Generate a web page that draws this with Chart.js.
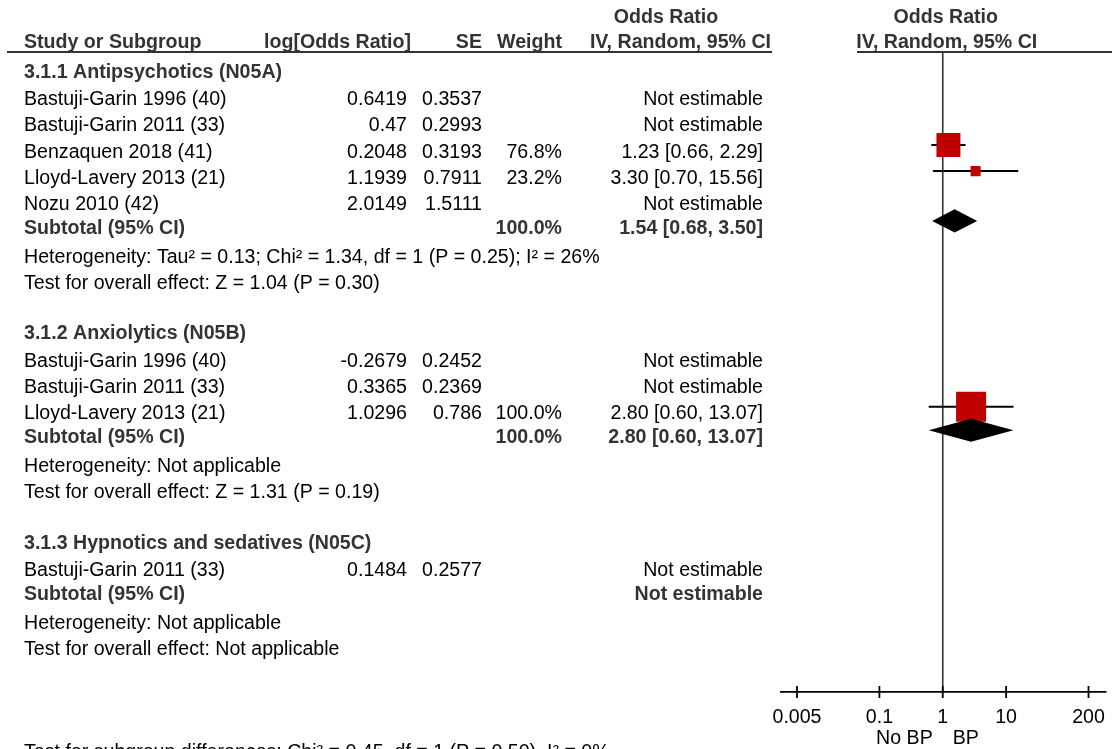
<!DOCTYPE html>
<html>
<head>
<meta charset="utf-8">
<script src="https://cdn.jsdelivr.net/npm/chart.js@4.4.1/dist/chart.umd.min.js"></script>
<style>
  html, body { margin: 0; padding: 0; background: #fff; overflow: hidden; }
  canvas { display: block; }
</style>
</head>
<body>
<canvas id="forest" width="1112" height="749"></canvas>
<script>
// ---- Subgroups and studies ----
const groupTitles = [
  '3.1.1 Antipsychotics (N05A)',
  '3.1.2 Anxiolytics (N05B)',
  '3.1.3 Hypnotics and sedatives (N05C)'
];
const studyNames = [
  ['Bastuji-Garin 1996 (40)', 'Bastuji-Garin 2011 (33)', 'Benzaquen 2018 (41)', 'Lloyd-Lavery 2013 (21)', 'Nozu 2010 (42)'],
  ['Bastuji-Garin 1996 (40)', 'Bastuji-Garin 2011 (33)', 'Lloyd-Lavery 2013 (21)'],
  ['Bastuji-Garin 2011 (33)']
];
const logOddsRatio = [
  [0.6419, 0.47, 0.2048, 1.1939, 2.0149],
  [-0.2679, 0.3365, 1.0296],
  [0.1484]
];
const standardError = [
  [0.3537, 0.2993, 0.3193, 0.7911, 1.5111],
  [0.2452, 0.2369, 0.786],
  [0.2577]
];
const studyWeight = [
  [null, null, 76.8, 23.2, null],
  [null, null, 100.0],
  [null]
];
const oddsRatio = [
  [null, null, 1.23, 3.30, null],
  [null, null, 2.80],
  [null]
];
const ciLower = [
  [null, null, 0.66, 0.70, null],
  [null, null, 0.60],
  [null]
];
const ciUpper = [
  [null, null, 2.29, 15.56, null],
  [null, null, 13.07],
  [null]
];

// ---- Subgroup totals ----
const subtotalWeight = [100.0, 100.0, null];
const subtotalOR = [1.54, 2.80, null];
const subtotalLower = [0.68, 0.60, null];
const subtotalUpper = [3.50, 13.07, null];
const heterogeneityText = [
  'Tau\u00B2 = 0.13; Chi\u00B2 = 1.34, df = 1 (P = 0.25); I\u00B2 = 26%',
  'Not applicable',
  'Not applicable'
];
const overallEffectText = ['Z = 1.04 (P = 0.30)', 'Z = 1.31 (P = 0.19)', 'Not applicable'];
const subgroupDifferenceText = 'Test for subgroup differences: Chi\u00B2 = 0.45, df = 1 (P = 0.50), I\u00B2 = 0%';

// ---- Axis ----
const axisTicks = [0.005, 0.1, 1, 10, 200];
const axisTickLabels = ['0.005', '0.1', '1', '10', '200'];
const favourLabels = ['No BP', 'BP'];

// ---- Styling ----
const FONT_FAMILY = '"Liberation Sans", Arial, Helvetica, sans-serif';
const FONT_SIZE = 19.6;
const TEXT_DROP = 12.7;          // text baseline below a row's centre line
const BOX_RED = '#c00000';
const INK = '#000000';
const BOLD_INK = '#333333';
const DIAMOND_HALF_H = 0.44;     // in row units

function fmt2(v) { return v.toFixed(2); }
function ciText(or, lo, hi) { return fmt2(or) + ' [' + fmt2(lo) + ', ' + fmt2(hi) + ']'; }
function boxSide(w) { return 4 + 0.26 * w; }

// ---- Row layout (in row units down the table) ----
const rows = [];
(function buildRows() {
  let u = 0;
  groupTitles.forEach((title, gi) => {
    rows.push({ u: u, kind: 'group', gi: gi });
    let su = u + 1.05;
    studyNames[gi].forEach((name, si) => {
      rows.push({ u: su, kind: 'study', gi: gi, si: si });
      su += 1;
    });
    const subU = su - 1 + 0.9;
    rows.push({ u: subU, kind: 'subtotal', gi: gi });
    rows.push({ u: subU + 1.12, kind: 'het', gi: gi });
    rows.push({ u: subU + 2.12, kind: 'test', gi: gi });
    u = subU + 2.12 + 1.92;
  });
})();
const lastRowU = rows[rows.length - 1].u;
const AXIS_U = 23.93;
const FOOT_U = lastRowU + 3.9;
const HEADER_U = -1.134;
const TOPHEADER_U = -2.1;
const RULE_U = -0.496;

// ---- Datasets: CI whiskers and weighted boxes ----
const whiskerSets = [];
const boxPoints = [];
const boxRadii = [];
rows.forEach(r => {
  if (r.kind !== 'study') return;
  const or = oddsRatio[r.gi][r.si];
  if (or === null) return;
  whiskerSets.push({
    type: 'scatter',
    showLine: true,
    data: [{ x: ciLower[r.gi][r.si], y: r.u }, { x: ciUpper[r.gi][r.si], y: r.u }],
    borderColor: INK,
    borderWidth: 2,
    pointRadius: 0,
    order: 2
  });
  boxPoints.push({ x: or, y: r.u });
  boxRadii.push(boxSide(studyWeight[r.gi][r.si]) / Math.SQRT2);
});

const boxSet = {
  type: 'scatter',
  data: boxPoints,
  pointStyle: 'rect',
  pointRadius: boxRadii,
  pointBackgroundColor: BOX_RED,
  pointBorderColor: BOX_RED,
  pointBorderWidth: 0,
  order: 1
};

// ---- Drawing helpers ----
function text(ctx, s, x, y, align, bold) {
  ctx.font = (bold ? 'bold ' : '') + FONT_SIZE + 'px ' + FONT_FAMILY;
  ctx.fillStyle = bold ? BOLD_INK : INK;
  ctx.textAlign = align;
  ctx.textBaseline = 'alphabetic';
  ctx.fillText(s, x, y);
}

const forestPlugin = {
  id: 'forest',
  beforeDraw(chart) {
    const ctx = chart.ctx;
    ctx.save();
    ctx.fillStyle = '#ffffff';
    ctx.fillRect(0, 0, chart.width, chart.height);
    ctx.restore();
  },
  beforeDatasetsDraw(chart) {
    const ctx = chart.ctx, xs = chart.scales.x, ys = chart.scales.y;
    const x1 = xs.getPixelForValue(1);
    ctx.save();
    ctx.strokeStyle = '#333333';
    ctx.lineWidth = 1.6;
    ctx.beginPath();
    ctx.moveTo(x1, ys.getPixelForValue(RULE_U));
    ctx.lineTo(x1, ys.getPixelForValue(AXIS_U));
    ctx.stroke();
    ctx.restore();
  },
  afterDatasetsDraw(chart) {
    const ctx = chart.ctx, xs = chart.scales.x, ys = chart.scales.y;
    ctx.save();
    // pooled-estimate diamonds
    ctx.fillStyle = INK;
    rows.forEach(r => {
      if (r.kind !== 'subtotal' || subtotalOR[r.gi] === null) return;
      const xl = xs.getPixelForValue(subtotalLower[r.gi]);
      const xm = xs.getPixelForValue(subtotalOR[r.gi]);
      const xr = xs.getPixelForValue(subtotalUpper[r.gi]);
      const yc = ys.getPixelForValue(r.u);
      const yt = ys.getPixelForValue(r.u - DIAMOND_HALF_H);
      const yb = ys.getPixelForValue(r.u + DIAMOND_HALF_H);
      ctx.beginPath();
      ctx.moveTo(xl, yc);
      ctx.lineTo(xm, yt);
      ctx.lineTo(xr, yc);
      ctx.lineTo(xm, yb);
      ctx.closePath();
      ctx.fill();
    });

    // axis line with crossing ticks
    const ay = ys.getPixelForValue(AXIS_U);
    const xMin = xs.getPixelForValue(axisTicks[0]);
    const xMax = xs.getPixelForValue(axisTicks[axisTicks.length - 1]);
    ctx.strokeStyle = INK;
    ctx.lineWidth = 1.8;
    ctx.beginPath();
    ctx.moveTo(xMin - 17, ay);
    ctx.lineTo(xMax + 18, ay);
    axisTicks.forEach(t => {
      const tx = xs.getPixelForValue(t);
      ctx.moveTo(tx, ay - 6);
      ctx.lineTo(tx, ay + 6);
    });
    ctx.stroke();
    axisTicks.forEach((t, i) => text(ctx, axisTickLabels[i], xs.getPixelForValue(t), ay + 31, 'center', false));
    const x1 = xs.getPixelForValue(1);
    text(ctx, favourLabels[0], x1 - 10, ay + 52, 'right', false);
    text(ctx, favourLabels[1], x1 + 10, ay + 52, 'left', false);
    ctx.restore();
  },
  afterDraw(chart) {
    const ctx = chart.ctx, xs = chart.scales.x, ys = chart.scales.y;
    const x1 = xs.getPixelForValue(1);
    const COL_NAME = 24, COL_LOG = 407, COL_SE = 482, COL_W = 562, COL_OR = 763;
    ctx.save();

    // column headings
    const yTop = ys.getPixelForValue(TOPHEADER_U) + TEXT_DROP;
    const yHead = ys.getPixelForValue(HEADER_U) + TEXT_DROP;
    text(ctx, 'Odds Ratio', 666, yTop, 'center', true);
    text(ctx, 'Odds Ratio', x1 + 3, yTop, 'center', true);
    text(ctx, 'Study or Subgroup', COL_NAME, yHead, 'left', true);
    text(ctx, 'log[Odds Ratio]', 411, yHead, 'right', true);
    text(ctx, 'SE', COL_SE, yHead, 'right', true);
    text(ctx, 'Weight', 562, yHead, 'right', true);
    text(ctx, 'IV, Random, 95% CI', 771, yHead, 'right', true);
    text(ctx, 'IV, Random, 95% CI', x1 + 4, yHead, 'center', true);

    const ruleY = ys.getPixelForValue(RULE_U);
    ctx.strokeStyle = '#333333';
    ctx.lineWidth = 2;
    ctx.beginPath();
    ctx.moveTo(7, ruleY);
    ctx.lineTo(772, ruleY);
    ctx.moveTo(857, ruleY);
    ctx.lineTo(chart.width, ruleY);
    ctx.stroke();

    // table body
    rows.forEach(r => {
      const y = ys.getPixelForValue(r.u) + TEXT_DROP;
      const gi = r.gi;
      if (r.kind === 'group') {
        text(ctx, groupTitles[gi], COL_NAME, y, 'left', true);
      } else if (r.kind === 'study') {
        const si = r.si;
        text(ctx, studyNames[gi][si], COL_NAME, y, 'left', false);
        text(ctx, String(logOddsRatio[gi][si]), COL_LOG, y, 'right', false);
        text(ctx, String(standardError[gi][si]), COL_SE, y, 'right', false);
        const w = studyWeight[gi][si];
        if (w !== null) text(ctx, w.toFixed(1) + '%', COL_W, y, 'right', false);
        const or = oddsRatio[gi][si];
        text(ctx, or === null ? 'Not estimable' : ciText(or, ciLower[gi][si], ciUpper[gi][si]), COL_OR, y, 'right', false);
      } else if (r.kind === 'subtotal') {
        text(ctx, 'Subtotal (95% CI)', COL_NAME, y, 'left', true);
        if (subtotalWeight[gi] !== null) text(ctx, subtotalWeight[gi].toFixed(1) + '%', COL_W, y, 'right', true);
        const or = subtotalOR[gi];
        text(ctx, or === null ? 'Not estimable' : ciText(or, subtotalLower[gi], subtotalUpper[gi]), COL_OR, y, 'right', true);
      } else if (r.kind === 'het') {
        text(ctx, 'Heterogeneity: ' + heterogeneityText[gi], COL_NAME, y, 'left', false);
      } else if (r.kind === 'test') {
        text(ctx, 'Test for overall effect: ' + overallEffectText[gi], COL_NAME, y, 'left', false);
      }
    });
    text(ctx, subgroupDifferenceText, COL_NAME, ys.getPixelForValue(FOOT_U) + TEXT_DROP, 'left', false);
    ctx.restore();
  }
};

new Chart(document.getElementById('forest'), {
  type: 'scatter',
  data: { datasets: [boxSet].concat(whiskerSets) },
  options: {
    responsive: false,
    devicePixelRatio: 1,
    animation: false,
    events: [],
    layout: { autoPadding: false, padding: { left: 797, right: 23.5, top: 38.8, bottom: 2.8 } },
    plugins: { legend: { display: false }, tooltip: { enabled: false } },
    scales: {
      x: {
        type: 'logarithmic',
        display: false,
        bounds: 'data',
        min: axisTicks[0],
        max: axisTicks[axisTicks.length - 1]
      },
      y: {
        type: 'linear',
        display: false,
        reverse: true,
        bounds: 'data',
        min: -1,
        max: 26
      }
    }
  },
  plugins: [forestPlugin]
});
</script>
</body>
</html>
